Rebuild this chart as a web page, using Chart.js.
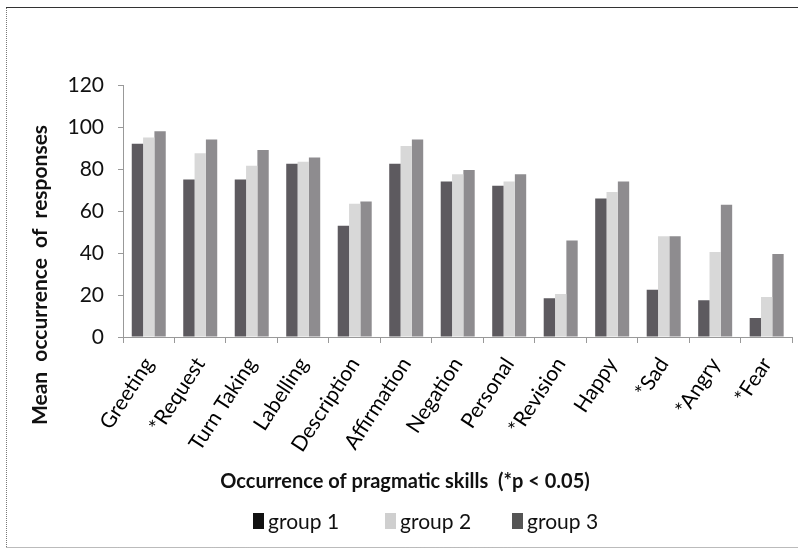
<!DOCTYPE html>
<html><head><meta charset="utf-8">
<script src="https://cdn.jsdelivr.net/npm/chart.js@4/dist/chart.umd.min.js"></script>
<style>html,body{margin:0;padding:0;background:#fff}#wrap{width:798px;height:550px;position:relative}</style>
</head><body><div id="wrap"><canvas id="c" width="798" height="550"></canvas></div>
<script>
const categories = ['Greeting','*Request','Turn Taking','Labelling','Description','Affirmation','Negation','Personal','*Revision','Happy','*Sad','*Angry','*Fear'];
const group1 = [92, 75, 75, 82.5, 53, 82.5, 74, 72, 18.5, 66, 22.5, 17.5, 9];
const group2 = [95, 87.5, 81.5, 83.5, 63.5, 91, 77.5, 74, 20.5, 69, 48, 40.5, 19];
const group3 = [98, 94, 89, 85.5, 64.5, 94, 79.5, 77.5, 46, 74, 48, 63, 39.5];
const seriesNames = ['group 1', 'group 2', 'group 3'];
const yTicks = [0, 20, 40, 60, 80, 100, 120];
const xTitle = 'Occurrence of pragmatic skills  (*p < 0.05)';
const yTitle = 'Mean  occurrence  of  responses';

const barColors = ['#5d5a5f', '#d8d8d8', '#8e8c8f'];
const legendColors = ['#111111', '#cfcfcf', '#555555'];
const FONT = 'Lato, "Open Sans", sans-serif';

const decor = {
  id: 'decor',
  afterDraw(chart) {
    const ctx = chart.ctx;
    ctx.save();
    ctx.strokeStyle = '#777';
    ctx.lineWidth = 1;
    ctx.setLineDash([1, 1]);
    ctx.beginPath();
    ctx.moveTo(6.5, 8); ctx.lineTo(6.5, 548);
    ctx.moveTo(6.5, 547.5); ctx.lineTo(798, 547.5);
    ctx.stroke();
    ctx.setLineDash([]);
    ctx.strokeStyle = '#333';
    ctx.beginPath();
    ctx.moveTo(6, 7.5); ctx.lineTo(798, 7.5);
    ctx.stroke();
    ctx.fillStyle = '#111';
    ctx.font = 'bold 21px ' + FONT;
    ctx.textAlign = 'center';
    ctx.textBaseline = 'middle';
    ctx.save();
    ctx.translate(40, 275);
    ctx.rotate(-Math.PI / 2);
    ctx.fillText(yTitle, 0, 0);
    ctx.restore();
    ctx.font = 'bold 20px ' + FONT;
    ctx.fillText(xTitle, 405, 482);
    const items = [[253, 268], [385, 400], [512, 527]];
    ctx.font = '21px ' + FONT;
    ctx.textAlign = 'left';
    seriesNames.forEach((n, i) => {
      ctx.fillStyle = legendColors[i];
      ctx.fillRect(items[i][0], 513, 11, 16);
      ctx.fillStyle = '#111';
      ctx.fillText(n, items[i][1], 522);
    });
    ctx.restore();
  }
};

new Chart(document.getElementById('c'), {
  type: 'bar',
  data: {
    labels: categories,
    datasets: [
      { label: seriesNames[0], data: group1, backgroundColor: barColors[0] },
      { label: seriesNames[1], data: group2, backgroundColor: barColors[1] },
      { label: seriesNames[2], data: group3, backgroundColor: barColors[2] }
    ]
  },
  options: {
    responsive: false,
    animation: false,
    devicePixelRatio: 1,
    layout: { padding: { top: 85, right: 5, left: 0, bottom: 0 } },
    datasets: { bar: { categoryPercentage: 0.66, barPercentage: 1.0 } },
    plugins: { legend: { display: false }, tooltip: { enabled: false } },
    scales: {
      x: {
        afterFit(s) { s.height = 213; },
        grid: { drawOnChartArea: false, offset: true, tickLength: 6, color: '#999' },
        border: { color: '#999' },
        ticks: { autoSkip: false, maxRotation: 57, minRotation: 57, padding: 10, color: '#000', font: { family: FONT, size: 21 } }
      },
      y: {
        min: 0, max: 120,
        afterFit(s) { s.width = 123; },
        afterBuildTicks(s) { s.ticks = yTicks.map(v => ({ value: v })); },
        grid: { drawOnChartArea: false, tickLength: 5, color: '#999' },
        border: { color: '#999' },
        ticks: { padding: 14, color: '#111', font: { family: FONT, size: 21 } }
      }
    }
  },
  plugins: [decor]
});
</script>
</body></html>
